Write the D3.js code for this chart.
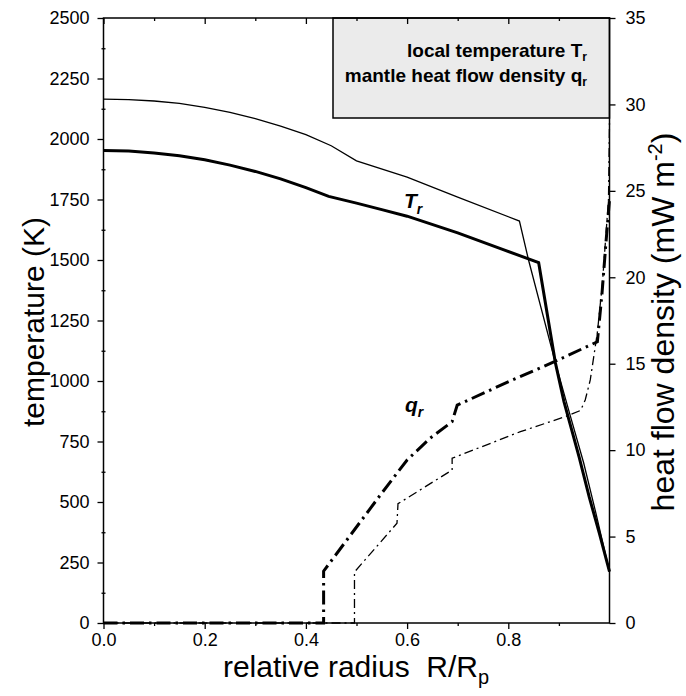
<!DOCTYPE html>
<html><head><meta charset="utf-8">
<script src="https://cdn.jsdelivr.net/npm/d3@7"></script>
<style>body{margin:0;background:#fff}svg{display:block}text{font-family:"Liberation Sans",Arial,sans-serif}</style>
</head><body><svg id="c" width="686" height="696"></svg>
<script>
// ---- data ----
const thinT_r = [0,0.05,0.1,0.15,0.2,0.25,0.3,0.35,0.4,0.45,0.5,0.6,0.7,0.822,0.84,0.893,0.921,0.949,0.973,1.0];
const thinT_v = [2165,2163,2157,2147,2131,2110,2084,2053,2018,1972,1910,1842,1760,1661,1500,1076,867,661,455,212];
const thickT_r = [0,0.05,0.1,0.15,0.2,0.25,0.3,0.35,0.4,0.445,0.5,0.55,0.6,0.7,0.79,0.86,0.893,0.91,0.925,0.94,0.96,0.98,1.0];
const thickT_v = [1952,1950,1942,1931,1914,1892,1866,1835,1799,1763,1735,1708,1681,1612,1543,1489,1076,915,800,685,520,370,212];
const thickQ_r = [0,0.435,0.435,0.547,0.6,0.646,0.689,0.699,0.808,0.89,0.976,0.985,0.993,1.0];
const thickQ_v = [0,0,3.0,7.4,9.43,10.7,11.65,12.6,14.06,15.1,16.27,19,22,24.5];
const thinQ_r = [0,0.496,0.496,0.58,0.582,0.689,0.689,0.824,0.913,0.943,0.952,0.962,0.976,0.986,0.998,1.0];
const thinQ_v = [0,0,2.95,5.77,6.9,8.85,9.53,11.07,11.94,12.3,12.9,14.06,16.8,19.65,24.5,29];
const xTicks = [0,0.2,0.4,0.6,0.8];
const xMinor = [0.1,0.3,0.5,0.7,0.9];
const tTicks = [0,250,500,750,1000,1250,1500,1750,2000,2250,2500];
const qTicks = [0,5,10,15,20,25,30,35];

// ---- layout ----
const L=103.5, R=609.5, T=18, B=623;
const svg=d3.select("#c");
const x=d3.scaleLinear().domain([0,1]).range([L,R]);
const yT=d3.scaleLinear().domain([0,2500]).range([B,T]);
const yQ=d3.scaleLinear().domain([0,35]).range([B,T]);

// legend box
svg.append("rect").attr("x",333).attr("y",T).attr("width",R-333).attr("height",100)
  .attr("fill","#ebebeb").attr("stroke","#000").attr("stroke-width",1.5);
const lg=svg.append("g").attr("font-weight","bold").attr("font-size",19).attr("text-anchor","end");
let t1=lg.append("text").attr("x",587).attr("y",57);
t1.append("tspan").text("local temperature T");
t1.append("tspan").attr("font-size",12).attr("dy",4).text("r");
let t2=lg.append("text").attr("x",587).attr("y",82);
t2.append("tspan").text("mantle heat flow density q");
t2.append("tspan").attr("font-size",12).attr("dy",4).text("r");

// lines
function draw(rs,vs,ys,w,dash){
  const pts=rs.map((r,i)=>[x(r),ys(vs[i])]);
  const p=svg.append("path").attr("d",d3.line()(pts)).attr("fill","none")
    .attr("stroke","#000").attr("stroke-width",w).attr("stroke-linejoin","miter");
  if(dash) p.attr("stroke-dasharray",dash);
}
draw(thinT_r,thinT_v,yT,1.3,null);
draw(thickT_r,thickT_v,yT,3,null);
draw(thinQ_r,thinQ_v,yQ,1.3,"9,4,2,4");
draw(thickQ_r,thickQ_v,yQ,3,"14,5,2.5,5");

// frame
svg.append("rect").attr("x",L).attr("y",T).attr("width",R-L).attr("height",B-T)
  .attr("fill","none").attr("stroke","#000").attr("stroke-width",1.5);

// axes
const fs=18;
svg.append("g").attr("transform",`translate(0,${B})`)
  .call(d3.axisBottom(x).tickValues(xTicks).tickFormat(d3.format(".1f")).tickSize(6).tickPadding(4));
svg.append("g").attr("transform",`translate(0,${B})`)
  .call(d3.axisBottom(x).tickValues(xMinor).tickFormat("").tickSize(3));
svg.append("g").attr("transform",`translate(0,${T})`)
  .call(d3.axisBottom(x).tickValues(xTicks).tickFormat("").tickSize(6));
svg.append("g").attr("transform",`translate(0,${T})`)
  .call(d3.axisBottom(x).tickValues(xMinor).tickFormat("").tickSize(3));
svg.append("g").attr("transform",`translate(${L},0)`)
  .call(d3.axisLeft(yT).tickValues(tTicks).tickFormat(d3.format("d")).tickSize(6).tickPadding(8));
svg.append("g").attr("transform",`translate(${L+2},0)`)
  .call(d3.axisLeft(yT).tickValues(d3.range(125,2500,250)).tickFormat("").tickSize(4));
svg.append("g").attr("transform",`translate(${R},0)`)
  .call(d3.axisRight(yQ).tickValues(qTicks).tickFormat(d3.format("d")).tickSize(6).tickPadding(10));
svg.selectAll(".domain").remove();
svg.selectAll(".tick line").attr("stroke","#000").attr("stroke-width",1.3);
svg.selectAll(".tick text").attr("font-size",fs).attr("fill","#000")
  .style("font-family","'Liberation Sans',Arial,sans-serif");

// curve labels
let lt=svg.append("text").attr("x",404).attr("y",208).attr("font-size",21)
  .attr("font-weight","bold").attr("font-style","italic");
lt.append("tspan").text("T");
lt.append("tspan").attr("font-size",14).attr("dy",6).text("r");
let lq=svg.append("text").attr("x",405).attr("y",412).attr("font-size",21)
  .attr("font-weight","bold").attr("font-style","italic");
lq.append("tspan").text("q");
lq.append("tspan").attr("font-size",14).attr("dy",5).text("r");

// axis titles
svg.append("text").attr("transform","translate(44,322) rotate(-90)")
  .attr("text-anchor","middle").attr("font-size",30).text("temperature (K)");
let xt=svg.append("text").attr("x",356).attr("y",677).attr("text-anchor","middle").attr("font-size",30);
xt.append("tspan").text("relative radius\u00a0\u00a0R/R");
xt.append("tspan").attr("font-size",20).attr("dy",7).text("p");
let rt=svg.append("text").attr("transform","translate(674,322) rotate(-90)")
  .attr("text-anchor","middle").attr("font-size",32);
rt.append("tspan").text("heat flow density (mW m");
rt.append("tspan").attr("font-size",20).attr("dy",-12).text("-2");
rt.append("tspan").attr("dy",12).text(")");
</script></body></html>
